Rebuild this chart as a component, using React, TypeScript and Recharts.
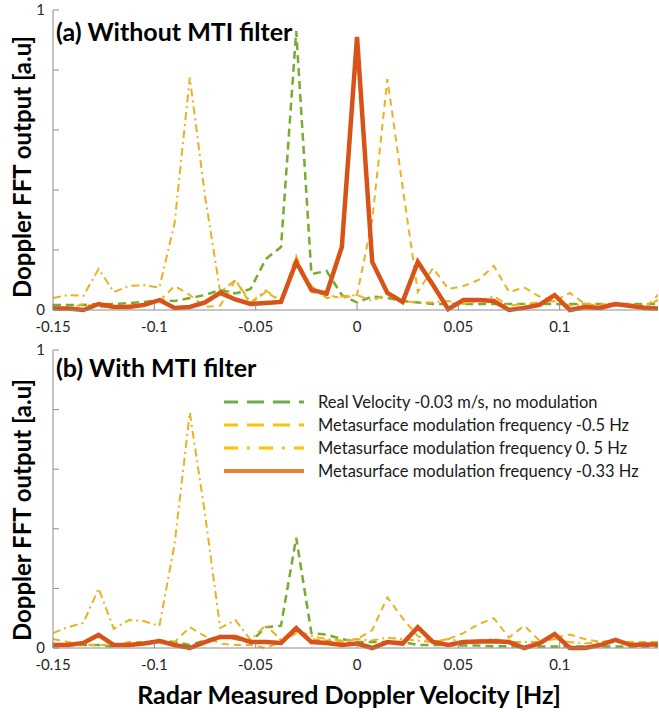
import React from 'react';
import { LineChart, Line, XAxis, YAxis } from 'recharts';

// Doppler bins [Hz]
const velocity = [
  -0.15, -0.1425, -0.135, -0.1275, -0.12, -0.1125, -0.105, -0.0975, -0.09, -0.0825,
  -0.075, -0.0675, -0.06, -0.0525, -0.045, -0.0375, -0.03, -0.0225, -0.015, -0.0075,
  0, 0.0075, 0.015, 0.0225, 0.03, 0.0375, 0.045, 0.0525, 0.06, 0.0675,
  0.075, 0.0825, 0.09, 0.0975, 0.105, 0.1125, 0.12, 0.1275, 0.135, 0.1425, 0.15,
];

// (a) without MTI filter
const realA = [
  0.017, 0.017, 0.017, 0.02, 0.02, 0.023, 0.027, 0.033, 0.03, 0.04,
  0.05, 0.067, 0.055, 0.07, 0.17, 0.21, 0.93, 0.12, 0.13, 0.05,
  0.025, 0.045, 0.04, 0.03, 0.025, 0.02, 0.02, 0.02, 0.02, 0.02,
  0.02, 0.02, 0.02, 0.02, 0.02, 0.02, 0.02, 0.02, 0.02, 0.02, 0.02,
];
const negHalfA = [
  0.01, 0.005, 0.02, 0.01, 0.01, 0.015, 0.02, 0.03, 0.08, 0.05,
  0.01, 0.015, 0.1, 0.02, 0.06, 0.03, 0.18, 0.06, 0.05, 0.04,
  0.05, 0.3, 0.77, 0.41, 0.06, 0.14, 0.07, 0.08, 0.1, 0.147,
  0.06, 0.075, 0.045, 0.03, 0.057, 0.02, 0.015, 0.015, 0.02, 0.01, 0.06,
];
const posHalfA = [
  0.04, 0.05, 0.047, 0.137, 0.06, 0.08, 0.083, 0.075, 0.29, 0.775,
  0.38, 0.06, 0.1, 0.025, 0.065, 0.03, 0.165, 0.08, 0.04, 0.045,
  0.05, 0.03, 0.055, 0.03, 0.025, 0.025, 0.03, 0.02, 0.03, 0.045,
  0.015, 0.02, 0.025, 0.03, 0.015, 0.02, 0.02, 0.015, 0.02, 0.01, 0.04,
];
const thirdA = [
  0.005, 0.005, 0.0, 0.02, 0.01, 0.01, 0.017, 0.033, 0.007, 0.01,
  0.025, 0.057, 0.035, 0.02, 0.023, 0.027, 0.16, 0.067, 0.055, 0.21,
  0.91, 0.16, 0.057, 0.027, 0.16, 0.083, 0.003, 0.033, 0.033, 0.03,
  0.0, 0.007, 0.017, 0.05, 0.0, 0.01, 0.007, 0.02, 0.013, 0.007, 0.005,
];

// (b) with MTI filter
const realB = [
  0.01, 0.01, 0.01, 0.01, 0.005, 0.01, 0.015, 0.025, 0.02, 0.01,
  0.025, 0.04, 0.03, 0.02, 0.07, 0.075, 0.37, 0.05, 0.045, 0.03,
  0.02, 0.02, 0.02, 0.02, 0.01, 0.01, 0.01, 0.008, 0.008, 0.006,
  0.006, 0.005, 0.005, 0.005, 0.005, 0.005, 0.005, 0.005, 0.005, 0.005, 0.005,
];
const negHalfB = [
  0.03, 0.02, 0.01, 0.01, 0.01, 0.02, 0.02, 0.02, 0.02, 0.07,
  0.04, 0.015, 0.01, 0.01, 0.0, 0.02, 0.05, 0.03, 0.025, 0.02,
  0.03, 0.06, 0.17, 0.1, 0.04, 0.02, 0.03, 0.05, 0.08, 0.1,
  0.035, 0.075, 0.025, 0.035, 0.045, 0.03, 0.02, 0.025, 0.02, 0.02, 0.02,
];
const posHalfB = [
  0.05, 0.07, 0.084, 0.2, 0.064, 0.094, 0.09, 0.074, 0.35, 0.79,
  0.45, 0.067, 0.094, 0.027, 0.077, 0.027, 0.06, 0.04, 0.03, 0.025,
  0.03, 0.025, 0.035, 0.03, 0.025, 0.02, 0.03, 0.02, 0.025, 0.03,
  0.02, 0.02, 0.02, 0.03, 0.02, 0.015, 0.02, 0.025, 0.015, 0.015, 0.015,
];
const thirdB = [
  0.01, 0.01, 0.017, 0.044, 0.01, 0.01, 0.015, 0.023, 0.01, 0.0,
  0.02, 0.037, 0.037, 0.02, 0.02, 0.017, 0.067, 0.02, 0.017, 0.01,
  0.015, 0.0, 0.02, 0.015, 0.07, 0.02, 0.01, 0.02, 0.022, 0.023,
  0.02, 0.0, 0.015, 0.047, 0.0, 0.0, 0.01, 0.027, 0.01, 0.012, 0.012,
];

const xTicks = [-0.15, -0.1, -0.05, 0, 0.05, 0.1];
const yTicks = [0, 0.2, 0.4, 0.6, 0.8, 1];

const seriesNames = [
  'Real Velocity -0.03 m/s, no modulation',
  'Metasurface modulation frequency -0.5 Hz',
  'Metasurface modulation frequency 0. 5 Hz',
  'Metasurface modulation frequency -0.33 Hz',
];

const GREEN = '#77AC30';
const YELLOW = '#EDB120';
const ORANGE = '#D95319';
const AXIS = '#8c8c8c';
const FONT = 'Lato, "Open Sans", sans-serif';

const build = (a: number[], b: number[], c: number[], d: number[]) =>
  velocity.map((v, i) => ({ v, real: a[i], neg: b[i], pos: c[i], third: d[i] }));

const dataA = build(realA, negHalfA, posHalfA, thirdA);
const dataB = build(realB, negHalfB, posHalfB, thirdB);

const fmtX = (v: number) => (v === 0 ? '0' : String(v));
const fmtY = (v: number) => (v === 0 || v === 1 ? String(v) : '');

function Panel({ data, height, top }: { data: any[]; height: number; top: number }) {
  const tickStyle = { fill: '#262626', fontSize: 15, fontFamily: FONT };
  return (
    <div style={{ position: 'absolute', left: 0, top }}>
      <LineChart width={659} height={height} data={data} margin={{ top: 10, right: 1, left: 0, bottom: 0 }}>
        <XAxis
          dataKey="v"
          type="number"
          domain={[-0.15, 0.1485]}
          allowDataOverflow
          ticks={xTicks}
          tickFormatter={fmtX}
          height={30}
          tickSize={-6}
          tickMargin={17}
          tick={tickStyle}
          stroke={AXIS}
        />
        <XAxis
          xAxisId="top"
          orientation="top"
          dataKey="v"
          type="number"
          domain={[-0.15, 0.1485]}
          allowDataOverflow
          ticks={xTicks}
          tickFormatter={() => ''}
          height={0}
          tickSize={-6}
          stroke={AXIS}
        />
        <YAxis
          type="number"
          domain={[0, 1]}
          ticks={yTicks}
          tickFormatter={fmtY}
          width={53}
          tickSize={-6}
          tickMargin={14}
          tick={tickStyle}
          stroke={AXIS}
        />
        <YAxis
          yAxisId="right"
          orientation="right"
          type="number"
          domain={[0, 1]}
          ticks={yTicks}
          tickFormatter={() => ''}
          width={0}
          tickSize={-6}
          stroke={AXIS}
        />
        <Line dataKey="real" stroke={GREEN} strokeWidth={2.5} strokeDasharray="8 5" dot={false} isAnimationActive={false} />
        <Line dataKey="neg" stroke={YELLOW} strokeWidth={2} strokeDasharray="7 5" dot={false} isAnimationActive={false} />
        <Line dataKey="pos" stroke={YELLOW} strokeWidth={2} strokeDasharray="8 4 2 4" dot={false} isAnimationActive={false} />
        <Line dataKey="third" stroke={ORANGE} strokeWidth={4.5} dot={false} isAnimationActive={false} strokeLinejoin="miter" />
      </LineChart>
    </div>
  );
}

const boldText: React.CSSProperties = { position: 'absolute', fontFamily: FONT, fontWeight: 700, color: '#000', whiteSpace: 'nowrap' };

function YLabel({ cy }: { cy: number }) {
  return (
    <div
      style={{
        ...boldText,
        fontSize: 24,
        width: 320,
        height: 28,
        lineHeight: '28px',
        textAlign: 'center',
        left: 22 - 160,
        top: cy - 14,
        transform: 'rotate(-90deg)',
      }}
    >
      Doppler FFT output [a.u]
    </div>
  );
}

function LegendBox() {
  const rows = [
    { color: '#70AD47', dash: '14 9 3 0', w: 3 },
    { color: '#FFC000', dash: '14 9 3 0', w: 3 },
    { color: '#FFC000', dash: '14 9 3 9', w: 3 },
    { color: '#ED7D31', dash: undefined, w: 4 },
  ];
  return (
    <div style={{ position: 'absolute', left: 222, top: 391 }}>
      {rows.map((r, i) => (
        <div key={i} style={{ display: 'flex', alignItems: 'center', height: 22.8 }}>
          <svg width={84} height={10}>
            <line x1={2} y1={5} x2={82} y2={5} stroke={r.color} strokeWidth={r.w} strokeDasharray={r.dash} />
          </svg>
          <span style={{ marginLeft: 12, fontFamily: FONT, fontSize: 16.5, color: '#1a1a1a', whiteSpace: 'nowrap' }}>
            {seriesNames[i]}
          </span>
        </div>
      ))}
    </div>
  );
}

export default function App() {
  return (
    <div style={{ position: 'absolute', left: 0, top: 0, width: 659, height: 712, background: '#fff', overflow: 'hidden' }}>
      <Panel data={dataA} height={340} top={0} />
      <Panel data={dataB} height={338} top={340} />
      <div style={{ ...boldText, fontSize: 25, left: 56, top: 16 }}>(a) Without MTI filter</div>
      <div style={{ ...boldText, fontSize: 25, left: 56, top: 352 }}>(b) With MTI filter</div>
      <YLabel cy={167} />
      <YLabel cy={510} />
      <LegendBox />
      <div style={{ ...boldText, fontSize: 25, left: 0, width: 698, textAlign: 'center', top: 679 }}>
        Radar Measured Doppler Velocity [Hz]
      </div>
    </div>
  );
}
